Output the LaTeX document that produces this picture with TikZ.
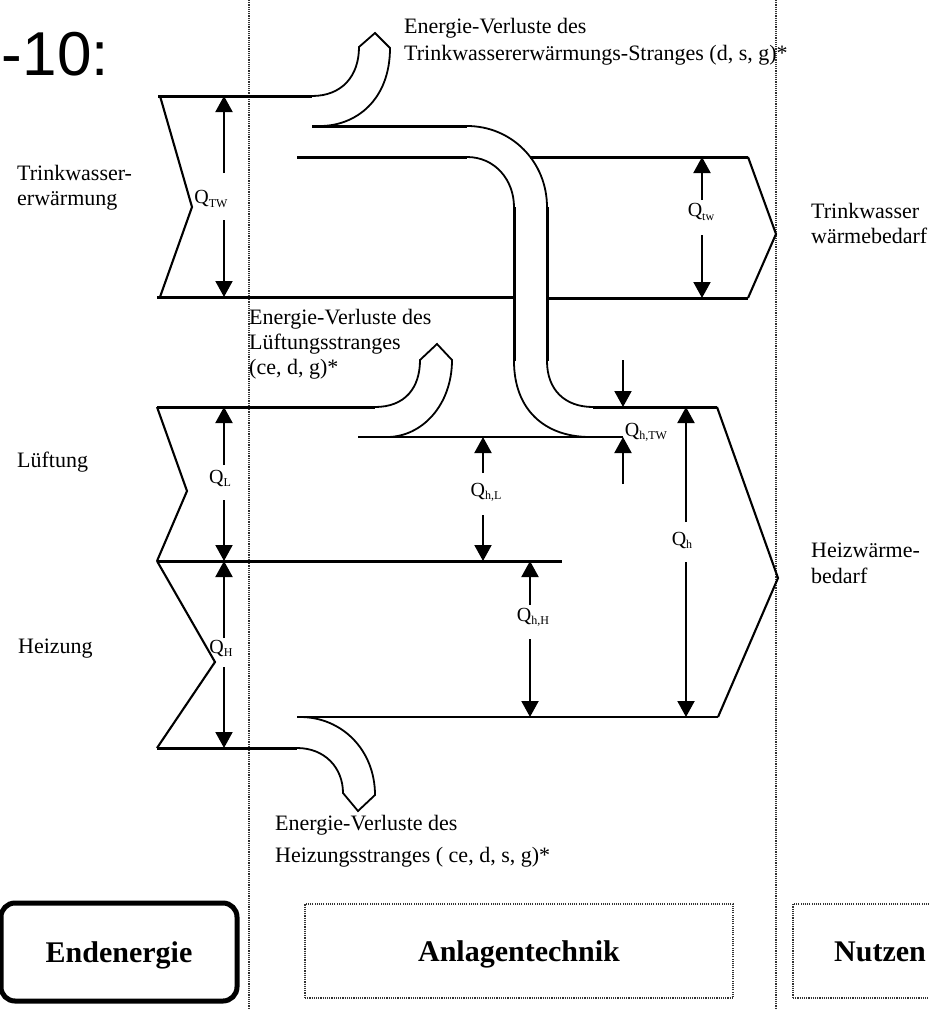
\documentclass[tikz,border=0pt]{standalone}
\usepackage{fontspec}
\setmainfont{Liberation Serif}
\newfontfamily\headsans{Liberation Sans}
\usetikzlibrary{arrows.meta}
\newcommand{\Qsub}[1]{Q\raisebox{-0.35ex}{\fontsize{12}{12}\selectfont #1}}

\begin{document}
\begin{tikzpicture}[x=1pt, y=-1pt,
    band/.style={line width=3pt},
    thinband/.style={line width=2.3pt},
    edge/.style={line width=2.1pt},
    pipe/.style={line width=1.8pt},
    dimarrow/.style={line width=2pt, -{Triangle[width=17pt,length=16pt]}},
    sep/.style={line width=1.5pt, black!80, dash pattern=on 1.1pt off 1.1pt},
    lbl/.style={font=\fontsize{22}{25}\selectfont, align=left, inner sep=0pt},
    qlbl/.style={font=\fontsize{20}{20}\selectfont, inner sep=0pt},
    head/.style={font=\fontsize{30}{30}\selectfont\bfseries, inner sep=0pt, text height=24pt, text depth=4pt}]
    \useasboundingbox (0,0) rectangle (929,1010);

    \draw[sep] (249,0) -- (249,1010);
    \draw[sep] (776,0) -- (776,1010);

    \node[font=\headsans\fontsize{62}{62}\selectfont, anchor=base east, inner sep=0pt] (fignr) at (109,75) {-10:};

    % Trinkwasser
    \draw[edge] (160,96) -- (192,207) -- (160,297);
    \draw[band] (158,96) -- (312,96);
    \draw[pipe] (312,96) .. controls (342,96) and (359,76) .. (359,47) -- (375,33) -- (390,48) .. controls (390,100) and (356,126) .. (320,126);
    \draw[band] (312,126) -- (467,126);
    \draw[pipe] (467,126) .. controls (512,126) and (547,162) .. (547,207);
    \draw[band] (547,207) -- (547,361);
    \draw[pipe] (547,361) .. controls (547,390) and (565,407) .. (593,407);
    \draw[band] (297,157) -- (467,157);
    \draw[pipe] (467,157) .. controls (495,157) and (514,180) .. (514,207);
    \draw[band] (514,207) -- (514,361);
    \draw[pipe] (514,361) .. controls (514,410) and (545,437) .. (590,437);
    \draw[band] (530,157) -- (748,157);
    \draw[edge] (748,157) -- (776,234) -- (748,298);
    \draw[band] (157,297) -- (514,297);
    \draw[band] (547,298) -- (748,298);

    % Lueftung
    \draw[edge] (157,407) -- (187,491) -- (157,561);
    \draw[band] (157,407) -- (375,407);
    \draw[pipe] (375,407) .. controls (405,407) and (420,388) .. (420,360) -- (437,344) -- (452,360) .. controls (452,405) and (422,437) .. (387,437);
    \draw[thinband] (358,437) -- (623,437);
    \draw[band] (593,407) -- (717,407);
    \draw[band] (157,561) -- (562,561);

    % Heizung
    \draw[edge] (157,561) -- (215,662) -- (157,748);
    \draw[band] (157,748) -- (297,748);
    \draw[pipe] (297,748) .. controls (325,748) and (343,768) .. (343,793) -- (358,811) -- (375,795) .. controls (375,750) and (342,717) .. (300,717);
    \draw[thinband] (297,717) -- (718,717);
    \draw[edge] (717,407) -- (778,578) -- (718,717);

    % Texte
    \node[lbl, anchor=north west, font=\fontsize{22}{27}\selectfont] (tTWloss) at (404,18) {Energie-Verluste des\\Trinkwassererwärmungs-Stranges (d, s, g)*};
    \node[lbl, anchor=north west] (tTW) at (17,165) {Trinkwasser-\\erwärmung};
    \node[lbl, anchor=north west] (tTWneed) at (811,203) {Trinkwasser\\wärmebedarf};
    \node[lbl, anchor=north west] (tLloss) at (249,309) {Energie-Verluste des\\Lüftungsstranges\\(ce, d, g)*};
    \node[lbl, anchor=base west] (tL) at (17,467) {Lüftung};
    \node[lbl, anchor=base west] (tH) at (18,653) {Heizung};
    \node[lbl, anchor=north west, font=\fontsize{22}{26}\selectfont] (tHneed) at (811,543) {Heizwärme-\\bedarf};
    \node[lbl, anchor=north west, font=\fontsize{22}{32}\selectfont] (tHloss) at (275,815) {Energie-Verluste des\\Heizungsstranges ( ce, d, s, g)*};

    % Mengen
    \node[qlbl] (qTW) at (211,199) {\Qsub{TW}};
    \coordinate (qTWa) at (224,173);
    \coordinate (qTWb) at (224,220);
    \coordinate (qTWtop) at (224,96);
    \coordinate (qTWbot) at (224,297);
    \draw[dimarrow] (qTWa) -- (qTWtop);
    \draw[dimarrow] (qTWb) -- (qTWbot);

    \node[qlbl] (qL) at (220,478) {\Qsub{L}};
    \coordinate (qLa) at (224,465);
    \coordinate (qLb) at (224,500);
    \coordinate (qLtop) at (224,407);
    \coordinate (qLbot) at (224,561);
    \draw[dimarrow] (qLa) -- (qLtop);
    \draw[dimarrow] (qLb) -- (qLbot);

    \node[qlbl] (qH) at (221,648) {\Qsub{H}};
    \coordinate (qHa) at (224,638);
    \coordinate (qHb) at (224,667);
    \coordinate (qHtop) at (224,561);
    \coordinate (qHbot) at (224,748);
    \draw[dimarrow] (qHa) -- (qHtop);
    \draw[dimarrow] (qHb) -- (qHbot);

    \node[qlbl] (qtw) at (701,212) {\Qsub{tw}};
    \coordinate (qtwa) at (702,200);
    \coordinate (qtwb) at (702,235);
    \coordinate (qtwtop) at (702,157);
    \coordinate (qtwbot) at (702,298);
    \draw[dimarrow] (qtwa) -- (qtwtop);
    \draw[dimarrow] (qtwb) -- (qtwbot);

    \node[qlbl] (qhL) at (486,492) {\Qsub{h,L}};
    \coordinate (qhLa) at (483,473);
    \coordinate (qhLb) at (483,515);
    \coordinate (qhLtop) at (483,437);
    \coordinate (qhLbot) at (483,561);
    \draw[dimarrow] (qhLa) -- (qhLtop);
    \draw[dimarrow] (qhLb) -- (qhLbot);

    \node[qlbl] (qhH) at (533,617) {\Qsub{h,H}};
    \coordinate (qhHa) at (530,605);
    \coordinate (qhHb) at (530,639);
    \coordinate (qhHtop) at (530,561);
    \coordinate (qhHbot) at (530,717);
    \draw[dimarrow] (qhHa) -- (qhHtop);
    \draw[dimarrow] (qhHb) -- (qhHbot);

    \node[qlbl] (qh) at (682,540) {\Qsub{h}};
    \coordinate (qha) at (686,522);
    \coordinate (qhb) at (686,562);
    \coordinate (qhtop) at (686,407);
    \coordinate (qhbot) at (686,717);
    \draw[dimarrow] (qha) -- (qhtop);
    \draw[dimarrow] (qhb) -- (qhbot);

    \node[qlbl] (qhTW) at (646,432) {\Qsub{h,TW}};
    \coordinate (qhTWa) at (623,360);
    \coordinate (qhTWb) at (623,484);
    \coordinate (qhTWtop) at (623,407);
    \coordinate (qhTWbot) at (623,437);
    \draw[dimarrow] (qhTWa) -- (qhTWtop);
    \draw[dimarrow] (qhTWb) -- (qhTWbot);

    % Bereiche
    \node[head, draw, line width=5pt, rounded corners=14pt, minimum width=236pt, minimum height=98pt] (endE) at (119,952) {Endenergie};
    \node[head, draw, sep, text=black, minimum width=428pt, minimum height=94pt] (anlage) at (519,951) {Anlagentechnik};
    \node[head, draw, sep, text=black, minimum width=174pt, minimum height=94pt] (nutzen) at (880,951) {Nutzen};
\end{tikzpicture}
\end{document}
